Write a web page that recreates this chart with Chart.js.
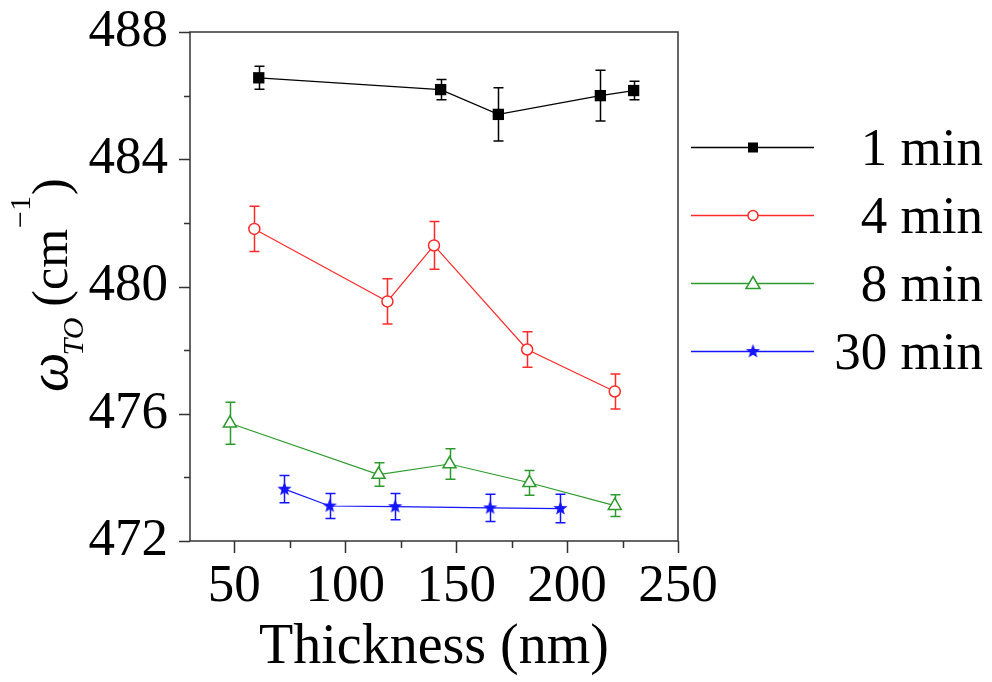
<!DOCTYPE html>
<html>
<head>
<meta charset="utf-8">
<script src="https://cdn.jsdelivr.net/npm/chart.js@4/dist/chart.umd.min.js"></script>
<style>
  html, body { margin: 0; padding: 0; background: #fff; }
  #wrap { width: 992px; height: 682px; }
</style>
</head>
<body>
<div id="wrap"><canvas id="chart" width="992" height="682"></canvas></div>
<script>
// values
const seriesNames = ['1 min', '4 min', '8 min', '30 min'];

const thick1 = [61, 143, 169, 215, 230];
const omega1 = [486.56, 486.19, 485.41, 486.00, 486.16];
const err1 = [0.36, 0.32, 0.84, 0.80, 0.29];

const thick4 = [59, 119, 140, 182, 221.5];
const omega4 = [481.81, 479.53, 481.29, 478.02, 476.70];
const err4 = [0.71, 0.71, 0.75, 0.56, 0.55];

const thick8 = [48, 115, 147, 183, 221.5];
const omega8 = [475.70, 474.09, 474.42, 473.83, 473.11];
const err8 = [0.66, 0.37, 0.48, 0.39, 0.34];

const thick30 = [72.6, 93, 122.5, 165.3, 197];
const omega30 = [473.63, 473.10, 473.08, 473.04, 473.02];
const err30 = [0.43, 0.39, 0.41, 0.43, 0.45];

const xTicks = [50, 75, 100, 125, 150, 175, 200, 225, 250];
const yTicks = [472, 474, 476, 478, 480, 482, 484, 486, 488];

const FONT = "'Liberation Serif', 'Times New Roman', serif";
const colors = ['#000000', '#ff2a2a', '#2e9a2e', '#1414ff'];

// filled five point star for the 30 min series
function makeStar(color, r) {
  const c = document.createElement('canvas');
  const s = Math.ceil(r * 2 + 2);
  c.width = s; c.height = s;
  const g = c.getContext('2d');
  g.fillStyle = color;
  g.beginPath();
  for (let i = 0; i < 10; i++) {
    const rad = i % 2 === 0 ? r : r * 0.42;
    const a = -Math.PI / 2 + i * Math.PI / 5;
    const px = s / 2 + rad * Math.cos(a), py = s / 2 + rad * Math.sin(a);
    if (i === 0) g.moveTo(px, py); else g.lineTo(px, py);
  }
  g.closePath();
  g.fill();
  return c;
}
const starImg = makeStar(colors[3], 7.5);

function pts(xs, ys) {
  return xs.map((x, i) => ({ x: x, y: ys[i] }));
}

const errors = [err1, err4, err8, err30];

const errorBars = {
  id: 'errorBars',
  beforeDatasetsDraw(chart) {
    const ctx = chart.ctx;
    const xs = chart.scales.x, ys = chart.scales.y;
    chart.data.datasets.forEach((ds, i) => {
      ctx.save();
      ctx.strokeStyle = colors[i];
      ctx.lineWidth = 1.5;
      ds.data.forEach((p, j) => {
        const e = errors[i][j];
        const px = Math.round(xs.getPixelForValue(p.x)) + 0.5;
        const top = ys.getPixelForValue(p.y + e);
        const bot = ys.getPixelForValue(p.y - e);
        ctx.beginPath();
        ctx.moveTo(px, top); ctx.lineTo(px, bot);
        ctx.moveTo(px - 5, top); ctx.lineTo(px + 5, top);
        ctx.moveTo(px - 5, bot); ctx.lineTo(px + 5, bot);
        ctx.stroke();
      });
      ctx.restore();
    });
  }
};

function drawMarker(ctx, i, x, y) {
  ctx.save();
  ctx.strokeStyle = colors[i];
  ctx.fillStyle = colors[i];
  ctx.lineWidth = 1.5;
  if (i === 0) {
    ctx.fillRect(x - 5, y - 5, 10, 10);
  } else if (i === 1) {
    ctx.fillStyle = '#fff';
    ctx.beginPath(); ctx.arc(x, y, 5, 0, Math.PI * 2); ctx.fill(); ctx.stroke();
  } else if (i === 2) {
    ctx.fillStyle = '#fff';
    ctx.beginPath();
    ctx.moveTo(x, y - 7); ctx.lineTo(x + 7, y + 5); ctx.lineTo(x - 7, y + 5);
    ctx.closePath(); ctx.fill(); ctx.stroke();
  } else {
    ctx.drawImage(starImg, x - starImg.width / 2, y - starImg.height / 2);
  }
  ctx.restore();
}

const decor = {
  id: 'decor',
  afterDraw(chart) {
    const ctx = chart.ctx;
    const a = chart.chartArea;
    const xs = chart.scales.x, ys = chart.scales.y;
    ctx.save();
    // frame
    ctx.strokeStyle = '#333';
    ctx.lineWidth = 1.5;
    ctx.strokeRect(a.left, a.top, a.right - a.left, a.bottom - a.top);
    // outward ticks
    ctx.beginPath();
    xTicks.forEach(v => {
      const px = Math.round(xs.getPixelForValue(v)) + 0.5;
      const len = v % 50 === 0 ? 12 : 7;
      ctx.moveTo(px, a.bottom); ctx.lineTo(px, a.bottom + len);
    });
    yTicks.forEach(v => {
      const py = Math.round(ys.getPixelForValue(v)) + 0.5;
      const len = (v - 472) % 4 === 0 ? 11 : 6;
      ctx.moveTo(a.left, py); ctx.lineTo(a.left - len, py);
    });
    ctx.stroke();

    // y title: omega_TO (cm^-1), rotated
    ctx.translate(67, 392);
    ctx.rotate(-Math.PI / 2);
    ctx.fillStyle = '#000';
    ctx.textBaseline = 'alphabetic';
    ctx.textAlign = 'left';
    let cx = 0;
    ctx.font = 'italic 56px ' + FONT;
    ctx.fillText('\u03C9', cx, 0);
    cx += ctx.measureText('\u03C9').width;
    ctx.font = 'italic 30px ' + FONT;
    ctx.fillText('TO', cx - 3, 16);
    cx += ctx.measureText('TO').width + 8;
    ctx.font = '50px ' + FONT;
    ctx.fillText('(cm', cx, 0);
    cx += ctx.measureText('(cm').width;
    ctx.font = '30px ' + FONT;
    ctx.fillText('\u22121', cx + 1, -37);
    cx += ctx.measureText('\u22121').width + 2;
    ctx.font = '50px ' + FONT;
    ctx.fillText(')', cx, 0);
    ctx.restore();

    // legend
    ctx.save();
    const rowsLine = [147, 215, 283, 351];
    chart.data.datasets.forEach((ds, i) => {
      const ly = rowsLine[i] + 0.5;
      ctx.strokeStyle = colors[i];
      ctx.lineWidth = 1.5;
      ctx.beginPath(); ctx.moveTo(691, ly); ctx.lineTo(814, ly); ctx.stroke();
      drawMarker(ctx, i, 753, ly);
      ctx.fillStyle = '#000';
      ctx.font = '53px ' + FONT;
      ctx.textAlign = 'right';
      ctx.textBaseline = 'alphabetic';
      ctx.fillText(ds.label, 983, rowsLine[i] + 18);
    });
    ctx.restore();
  }
};

new Chart(document.getElementById('chart'), {
  type: 'scatter',
  data: {
    datasets: [
      {
        label: seriesNames[0], data: pts(thick1, omega1), showLine: true,
        borderColor: colors[0], borderWidth: 1.2,
        pointStyle: 'rect', pointRadius: 8, pointBackgroundColor: colors[0], pointBorderColor: colors[0], pointBorderWidth: 0
      },
      {
        label: seriesNames[1], data: pts(thick4, omega4), showLine: true,
        borderColor: colors[1], borderWidth: 1.2,
        pointStyle: 'circle', pointRadius: 5.5, pointBackgroundColor: '#fff', pointBorderColor: colors[1], pointBorderWidth: 1.5
      },
      {
        label: seriesNames[2], data: pts(thick8, omega8), showLine: true,
        borderColor: colors[2], borderWidth: 1.2,
        pointStyle: 'triangle', pointRadius: 7.5, pointBackgroundColor: '#fff', pointBorderColor: colors[2], pointBorderWidth: 1.5
      },
      {
        label: seriesNames[3], data: pts(thick30, omega30), showLine: true,
        borderColor: colors[3], borderWidth: 1.2,
        pointStyle: starImg, pointRadius: 7
      }
    ]
  },
  options: {
    responsive: false,
    animation: false,
    events: [],
    layout: { padding: { top: 32, right: 314, left: 0, bottom: 0 } },
    plugins: { legend: { display: false }, tooltip: { enabled: false } },
    scales: {
      x: {
        type: 'linear', min: 30, max: 250,
        afterBuildTicks: s => { s.ticks = xTicks.map(v => ({ value: v })); },
        afterFit: s => { s.height = 141; s.paddingLeft = 0; s.paddingRight = 0; },
        grid: { display: false, drawTicks: false },
        border: { display: false },
        ticks: {
          autoSkip: false, maxRotation: 0, padding: 14, color: '#000',
          font: { family: FONT, size: 53 },
          callback: v => (v % 50 === 0 ? v : '')
        },
        title: {
          display: true, text: 'Thickness (nm)', color: '#000',
          font: { family: FONT, size: 56 }, padding: { top: 0, bottom: 0 }
        }
      },
      y: {
        type: 'linear', min: 472, max: 488,
        afterBuildTicks: s => { s.ticks = yTicks.map(v => ({ value: v })); },
        afterFit: s => { s.width = 190; s.paddingTop = 0; s.paddingBottom = 0; },
        grid: { display: false, drawTicks: false },
        border: { display: false },
        ticks: {
          autoSkip: false, padding: 22, color: '#000',
          font: { family: FONT, size: 53 },
          callback: v => ((v - 472) % 4 === 0 ? v : '')
        }
      }
    }
  },
  plugins: [errorBars, decor]
});
</script>
</body>
</html>
